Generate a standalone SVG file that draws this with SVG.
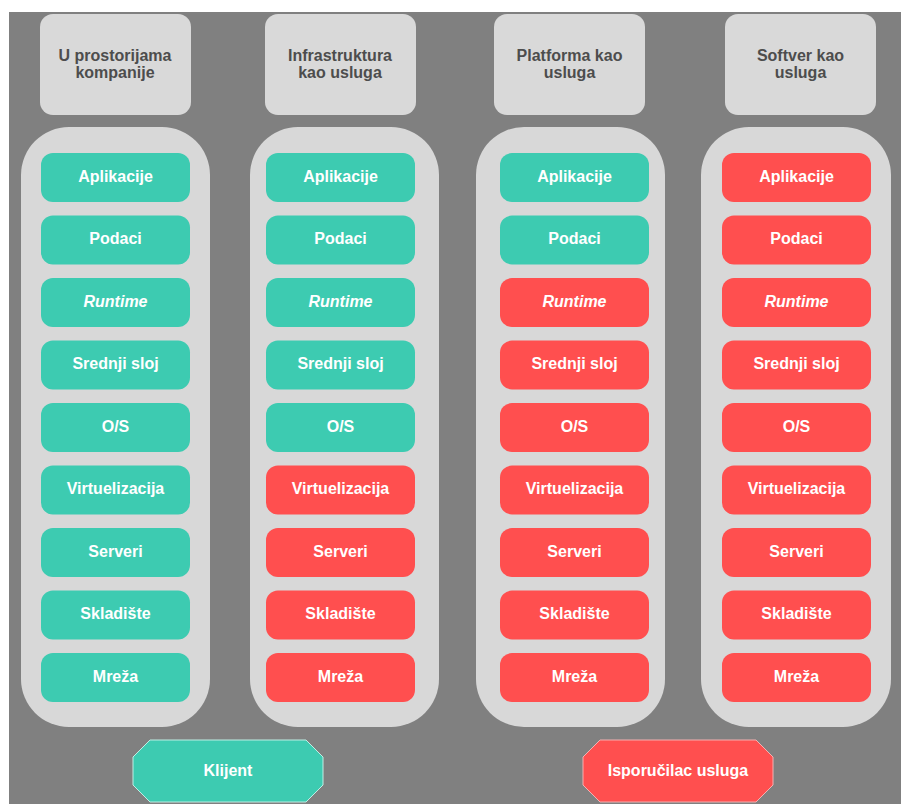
<svg xmlns="http://www.w3.org/2000/svg" width="901" height="804" viewBox="0 0 901 804">
<style>
.bg{fill:#808080}
.hdr{fill:#d9d9d9}
.cont{fill:#d8d8d8}
.t{fill:#3dcbb1}
.r{fill:#ff4f4f}
text{font-family:"Liberation Sans",Arial,sans-serif;font-weight:bold;font-size:16px;text-anchor:middle}
.ht{fill:#4d4d4d}
.bt{fill:#ffffff}
.it{font-style:italic}
</style>
<defs>
<rect id="box" width="149" height="49" rx="12"/>
</defs>
<rect x="0" y="0" width="901" height="804" fill="#ffffff"/>
<rect class="bg" x="9" y="12" width="892" height="792"/>

<g id="col1">
<rect class="hdr" x="40" y="14" width="151" height="101" rx="13"/>
<text class="ht" x="115" y="61">U prostorijama</text>
<text class="ht" x="115" y="78">kompanije</text>
<rect class="cont" x="21" y="127" width="189" height="600" rx="48"/>
<g transform="translate(41,-2)">
<use href="#box" y="155" class="t"/><text class="bt" x="74.5" y="183.5">Aplikacije</text>
<use href="#box" y="217.5" class="t"/><text class="bt" x="74.5" y="246">Podaci</text>
<use href="#box" y="280" class="t"/><text class="bt it" x="74.5" y="308.5">Runtime</text>
<use href="#box" y="342.5" class="t"/><text class="bt" x="74.5" y="371">Srednji sloj</text>
<use href="#box" y="405" class="t"/><text class="bt" x="74.5" y="433.5">O/S</text>
<use href="#box" y="467.5" class="t"/><text class="bt" x="74.5" y="496">Virtuelizacija</text>
<use href="#box" y="530" class="t"/><text class="bt" x="74.5" y="558.5">Serveri</text>
<use href="#box" y="592.5" class="t"/><text class="bt" x="74.5" y="621">Skladište</text>
<use href="#box" y="655" class="t"/><text class="bt" x="74.5" y="683.5">Mreža</text>
</g>
</g>

<g id="col2">
<rect class="hdr" x="265" y="14" width="151" height="101" rx="13"/>
<text class="ht" x="340" y="61">Infrastruktura</text>
<text class="ht" x="340" y="78">kao usluga</text>
<rect class="cont" x="250" y="127" width="189" height="600" rx="48"/>
<g transform="translate(266,-2)">
<use href="#box" y="155" class="t"/><text class="bt" x="74.5" y="183.5">Aplikacije</text>
<use href="#box" y="217.5" class="t"/><text class="bt" x="74.5" y="246">Podaci</text>
<use href="#box" y="280" class="t"/><text class="bt it" x="74.5" y="308.5">Runtime</text>
<use href="#box" y="342.5" class="t"/><text class="bt" x="74.5" y="371">Srednji sloj</text>
<use href="#box" y="405" class="t"/><text class="bt" x="74.5" y="433.5">O/S</text>
<use href="#box" y="467.5" class="r"/><text class="bt" x="74.5" y="496">Virtuelizacija</text>
<use href="#box" y="530" class="r"/><text class="bt" x="74.5" y="558.5">Serveri</text>
<use href="#box" y="592.5" class="r"/><text class="bt" x="74.5" y="621">Skladište</text>
<use href="#box" y="655" class="r"/><text class="bt" x="74.5" y="683.5">Mreža</text>
</g>
</g>

<g id="col3">
<rect class="hdr" x="494" y="14" width="151" height="101" rx="13"/>
<text class="ht" x="569.5" y="61">Platforma kao</text>
<text class="ht" x="569.5" y="78">usluga</text>
<rect class="cont" x="476" y="127" width="189" height="600" rx="48"/>
<g transform="translate(500,-2)">
<use href="#box" y="155" class="t"/><text class="bt" x="74.5" y="183.5">Aplikacije</text>
<use href="#box" y="217.5" class="t"/><text class="bt" x="74.5" y="246">Podaci</text>
<use href="#box" y="280" class="r"/><text class="bt it" x="74.5" y="308.5">Runtime</text>
<use href="#box" y="342.5" class="r"/><text class="bt" x="74.5" y="371">Srednji sloj</text>
<use href="#box" y="405" class="r"/><text class="bt" x="74.5" y="433.5">O/S</text>
<use href="#box" y="467.5" class="r"/><text class="bt" x="74.5" y="496">Virtuelizacija</text>
<use href="#box" y="530" class="r"/><text class="bt" x="74.5" y="558.5">Serveri</text>
<use href="#box" y="592.5" class="r"/><text class="bt" x="74.5" y="621">Skladište</text>
<use href="#box" y="655" class="r"/><text class="bt" x="74.5" y="683.5">Mreža</text>
</g>
</g>

<g id="col4">
<rect class="hdr" x="725" y="14" width="151" height="101" rx="13"/>
<text class="ht" x="800.5" y="61">Softver kao</text>
<text class="ht" x="800.5" y="78">usluga</text>
<rect class="cont" x="701" y="127" width="190" height="600" rx="48"/>
<g transform="translate(722,-2)">
<use href="#box" y="155" class="r"/><text class="bt" x="74.5" y="183.5">Aplikacije</text>
<use href="#box" y="217.5" class="r"/><text class="bt" x="74.5" y="246">Podaci</text>
<use href="#box" y="280" class="r"/><text class="bt it" x="74.5" y="308.5">Runtime</text>
<use href="#box" y="342.5" class="r"/><text class="bt" x="74.5" y="371">Srednji sloj</text>
<use href="#box" y="405" class="r"/><text class="bt" x="74.5" y="433.5">O/S</text>
<use href="#box" y="467.5" class="r"/><text class="bt" x="74.5" y="496">Virtuelizacija</text>
<use href="#box" y="530" class="r"/><text class="bt" x="74.5" y="558.5">Serveri</text>
<use href="#box" y="592.5" class="r"/><text class="bt" x="74.5" y="621">Skladište</text>
<use href="#box" y="655" class="r"/><text class="bt" x="74.5" y="683.5">Mreža</text>
</g>
</g>

<g id="klijent">
<polygon class="t" stroke="#bfeee4" stroke-width="1" points="150,740 306,740 323,757 323,785 306,802 150,802 133,785 133,757"/>
<text class="bt" x="228" y="776">Klijent</text>
</g>
<g id="isporucilac">
<polygon class="r" stroke="#f5b0b0" stroke-width="1" points="600,740 756,740 773,757 773,785 756,802 600,802 583,785 583,757"/>
<text class="bt" x="678" y="776">Isporučilac usluga</text>
</g>
<g id="connectors"></g>
</svg>
